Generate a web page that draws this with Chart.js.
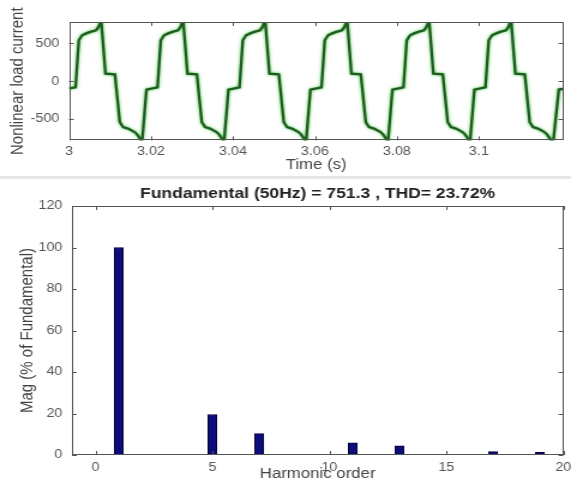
<!DOCTYPE html>
<html><head><meta charset="utf-8">
<script src="https://cdn.jsdelivr.net/npm/chart.js@4/dist/chart.umd.min.js"></script>
<style>
html,body{margin:0;padding:0;background:#fff;width:571px;height:485px;overflow:hidden;}
#c1{position:absolute;left:0;top:0;width:571px;height:176px;}
#sep{position:absolute;left:0;top:176px;width:571px;height:3px;background:#e6e6e6;}
#c2{position:absolute;left:0;top:179px;width:571px;height:306px;}
</style></head><body>
<canvas id="c1" width="476" height="176" style="width:571px;height:176px;display:block"></canvas>
<div id="sep"></div>
<canvas id="c2" width="476" height="306" style="width:571px;height:306px;display:block"></canvas>
<script>
// ---- top plot: nonlinear load current ----
const timeS = [
  3.0000, 3.0016, 3.0024, 3.0032, 3.0042, 3.0052, 3.0066, 3.0072, 3.0077, 3.0079, 3.0089, 3.0112, 3.0124, 3.0132, 3.0144, 3.0160, 3.0166, 3.0175, 3.0177, 3.0179, 3.0189,
  3.0216, 3.0224, 3.0232, 3.0242, 3.0252, 3.0266, 3.0272, 3.0277, 3.0279, 3.0289, 3.0312, 3.0324, 3.0332, 3.0344, 3.0360, 3.0366, 3.0375, 3.0377, 3.0379, 3.0389,
  3.0416, 3.0424, 3.0432, 3.0442, 3.0452, 3.0466, 3.0472, 3.0477, 3.0479, 3.0489, 3.0512, 3.0524, 3.0532, 3.0544, 3.0560, 3.0566, 3.0575, 3.0577, 3.0579, 3.0589,
  3.0616, 3.0624, 3.0632, 3.0642, 3.0652, 3.0666, 3.0672, 3.0677, 3.0679, 3.0689, 3.0712, 3.0724, 3.0732, 3.0744, 3.0760, 3.0766, 3.0775, 3.0777, 3.0779, 3.0789,
  3.0816, 3.0824, 3.0832, 3.0842, 3.0852, 3.0866, 3.0872, 3.0877, 3.0879, 3.0889, 3.0912, 3.0924, 3.0932, 3.0944, 3.0960, 3.0966, 3.0975, 3.0977, 3.0979, 3.0989,
  3.1016, 3.1024, 3.1032, 3.1042, 3.1052, 3.1066, 3.1072, 3.1077, 3.1079, 3.1089, 3.1112, 3.1124, 3.1132, 3.1144, 3.1160, 3.1166, 3.1175, 3.1178, 3.1182, 3.1195, 3.1206
];
const currentA = [
  -95, -80, 540, 605, 630, 650, 670, 715, 780, 775, 100, 90, -540, -605, -625, -670, -700, -770, -780, -760, -110,
  -80, 540, 605, 630, 650, 670, 715, 780, 775, 100, 90, -540, -605, -625, -670, -700, -770, -780, -760, -110,
  -80, 540, 605, 630, 650, 670, 715, 780, 775, 100, 90, -540, -605, -625, -670, -700, -770, -780, -760, -110,
  -80, 540, 605, 630, 650, 670, 715, 780, 775, 100, 90, -540, -605, -625, -670, -700, -770, -780, -760, -110,
  -80, 540, 605, 630, 650, 670, 715, 780, 775, 100, 90, -540, -605, -625, -670, -700, -770, -780, -760, -110,
  -80, 540, 605, 630, 650, 670, 715, 780, 775, 100, 90, -540, -605, -625, -670, -700, -770, -780, -765, -110, -100
];
const timeTicks = [3, 3.02, 3.04, 3.06, 3.08, 3.1];
const timeTickLabels = ['3', '3.02', '3.04', '3.06', '3.08', '3.1'];
const currentTicks = [-500, 0, 500];
const currentTickLabels = ['-500', '0', '500'];
const timeRange = [3, 3.1206];
const currentRange = [-780, 780];

// ---- bottom plot: harmonic spectrum ----
const harmonicOrder = [1, 5, 7, 11, 13, 17, 19];
const magPct = [100, 19.5, 10.3, 5.9, 4.4, 1.6, 1.3];
const orderTicks = [0, 5, 10, 15, 20];
const magTicks = [0, 20, 40, 60, 80, 100, 120];
const orderRange = [-1, 20];
const magRange = [0, 120];
const spectrumTitle = 'Fundamental (50Hz) = 751.3 , THD= 23.72%';

const FAM = '"Liberation Sans", Arial, Helvetica, sans-serif';

const boxTicks = {
  id: 'boxTicks',
  afterDatasetsDraw(chart) {
    const {ctx, chartArea: a} = chart;
    const xs = chart.scales.x, ys = chart.scales.y, L = 4;
    ctx.save();
    ctx.strokeStyle = '#555';
    ctx.lineWidth = 1;
    ctx.beginPath();
    xs.ticks.forEach(t => {
      const p = Math.round(xs.getPixelForValue(t.value)) + 0.5;
      ctx.moveTo(p, a.bottom); ctx.lineTo(p, a.bottom - L);
      ctx.moveTo(p, a.top); ctx.lineTo(p, a.top + L);
    });
    ys.ticks.forEach(t => {
      const p = Math.round(ys.getPixelForValue(t.value)) + 0.5;
      ctx.moveTo(a.left, p); ctx.lineTo(a.left + L, p);
      ctx.moveTo(a.right, p); ctx.lineTo(a.right - L, p);
    });
    ctx.stroke();
    ctx.strokeRect(Math.round(a.left) + 0.5, Math.round(a.top) + 0.5,
                   Math.round(a.right - a.left) - 1, Math.round(a.bottom - a.top) - 1);
    ctx.restore();
  }
};
const glow = {
  id: 'glow',
  beforeDatasetsDraw(chart) {
    chart.ctx.save();
    chart.ctx.shadowColor = 'rgba(40,190,40,0.9)';
    chart.ctx.shadowBlur = 3;
  },
  afterDatasetsDraw(chart) { chart.ctx.restore(); }
};

new Chart(document.getElementById('c1'), {
  type: 'line',
  data: { datasets: [{
    data: timeS.map((t, i) => ({x: t, y: currentA[i]})),
    borderColor: '#1f5a1f', borderWidth: 2.3, pointRadius: 0, tension: 0, fill: false
  }]},
  options: {
    responsive: false, animation: false, devicePixelRatio: 1,
    layout: { padding: { top: 22, right: 6.4, left: 0, bottom: 2.6 } },
    plugins: { legend: { display: false }, tooltip: { enabled: false } },
    scales: {
      x: {
        type: 'linear', min: timeRange[0], max: timeRange[1],
        grid: { display: false, drawTicks: false }, border: { display: false },
        afterBuildTicks: s => { s.ticks = timeTicks.map(v => ({value: v})); },
        ticks: { callback: (v, i) => timeTickLabels[i], padding: 4, color: '#555', font: { family: FAM, size: 12 }, maxRotation: 0, autoSkip: false },
        title: { display: true, text: 'Time (s)', color: '#444', font: { family: FAM, size: 14 }, padding: { top: 0, bottom: 0 } },
        afterFit: s => { s.height = 33; s.paddingLeft = 0; s.paddingRight = 0; }
      },
      y: {
        type: 'linear', min: currentRange[0], max: currentRange[1],
        grid: { display: false, drawTicks: false }, border: { display: false },
        afterBuildTicks: s => { s.ticks = currentTicks.map(v => ({value: v})); },
        ticks: { callback: (v, i) => currentTickLabels[i], padding: 8, color: '#555', font: { family: FAM, size: 12 }, autoSkip: false },
        title: { display: true, text: 'Nonlinear load current', color: '#444', font: { family: FAM, size: 15 }, padding: { top: 5.6, bottom: 0 } },
        afterFit: s => { s.width = 57.5; s.paddingTop = 0; s.paddingBottom = 0; }
      }
    }
  },
  plugins: [glow, boxTicks]
});

new Chart(document.getElementById('c2'), {
  type: 'bar',
  data: { datasets: [{
    data: harmonicOrder.map((h, i) => ({x: h, y: magPct[i]})),
    backgroundColor: '#0c0c7a', borderColor: '#000033', borderWidth: 1, barThickness: 7.5
  }]},
  options: {
    responsive: false, animation: false, devicePixelRatio: 1,
    layout: { padding: { top: 0, right: 6.4, left: 0, bottom: 2 } },
    plugins: {
      legend: { display: false }, tooltip: { enabled: false },
      title: { display: true, text: spectrumTitle, fullSize: false, color: '#222',
               font: { family: FAM, size: 14.6, weight: 'bold' }, padding: { top: 5.8, bottom: 3.7 } }
    },
    scales: {
      x: {
        type: 'linear', offset: false, min: orderRange[0], max: orderRange[1],
        grid: { display: false, drawTicks: false, offset: false }, border: { display: false },
        afterBuildTicks: s => { s.ticks = orderTicks.map(v => ({value: v})); },
        ticks: { padding: 5, color: '#555', font: { family: FAM, size: 12 }, maxRotation: 0, autoSkip: false },
        title: { display: true, text: 'Harmonic order', color: '#444', font: { family: FAM, size: 14 }, padding: { top: 0, bottom: 0 } },
        afterFit: s => { s.height = 28; s.paddingLeft = 0; s.paddingRight = 0; }
      },
      y: {
        type: 'linear', min: magRange[0], max: magRange[1],
        grid: { display: false, drawTicks: false }, border: { display: false },
        afterBuildTicks: s => { s.ticks = magTicks.map(v => ({value: v})); },
        ticks: { padding: 8, color: '#555', font: { family: FAM, size: 12 }, autoSkip: false },
        title: { display: true, text: 'Mag (% of Fundamental)', color: '#444', font: { family: FAM, size: 15 }, padding: { top: 14.3, bottom: 0 } },
        afterFit: s => { s.width = 60; s.paddingTop = 0; s.paddingBottom = 0; }
      }
    }
  },
  plugins: [boxTicks]
});
</script>
</body></html>
